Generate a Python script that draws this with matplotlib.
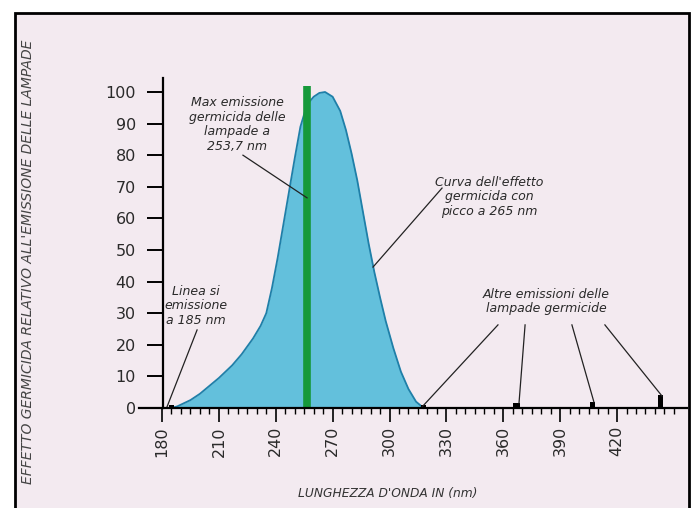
import matplotlib
matplotlib.use("Agg")
import matplotlib.pyplot as plt
from matplotlib.patches import Rectangle

# ---- data ----
curve_nm = [185, 188, 195, 200, 205, 210, 217, 222, 228, 232, 235, 238, 241, 244,
            247, 250, 253, 256.5, 260, 263, 266, 270, 274, 277, 280, 283, 286,
            289, 292, 295, 298, 302, 306, 310, 314, 318]
curve_val = [0, 0.5, 2.5, 4.5, 7, 9.5, 13.5, 17, 22, 26, 30, 38, 47.5, 58,
             68.5, 79, 89, 96, 98.5, 99.7, 100, 98.5, 94, 88, 80.5, 72, 62,
             52, 43, 35, 27.5, 19, 11.5, 6, 2, 0]
lamp_peak_nm = 256.5
lamp_peak_top = 102
emis_nm = [185, 318, 367, 407, 443]
emis_val = [1.0, 0.8, 1.6, 2.0, 4.0]
emis_width = [3.0, 3.0, 3.5, 2.5, 2.5]

y_ticks = [0, 10, 20, 30, 40, 50, 60, 70, 80, 90, 100]
x_major = [180, 210, 240, 270, 300, 330, 360, 390, 420]
x_minor = list(range(180, 455, 5))

ylabel = "EFFETTO GERMICIDA RELATIVO ALL'EMISSIONE DELLE LAMPADE"
xlabel = "LUNGHEZZA D'ONDA IN (nm)"

BG = "#f3eaf0"
TXT = "#2a2a2a"

W, H = 693, 508
fig = plt.figure(figsize=(W / 100, H / 100), dpi=100, facecolor="white")
# bordered panel
fig.patches.append(Rectangle((15 / W, -0.02), (689 - 15) / W, (H - 13) / H + 0.02,
                             transform=fig.transFigure, facecolor=BG,
                             edgecolor="black", linewidth=2, zorder=-10))

L, R, T, B = 130, 690, 70, 430
ax = fig.add_axes([L / W, 1 - B / H, (R - L) / W, (B - T) / H])
ax.set_facecolor("none")
ax.patch.set_alpha(0)
px_per_nm = 1.896
px_per_unit = 3.16
ax.set_xlim(180 + (L - 162) / px_per_nm, 180 + (R - 162) / px_per_nm)
ax.set_ylim(-(B - 408) / px_per_unit, (408 - T) / px_per_unit)

# spectrum curve
ax.fill_between(curve_nm, curve_val, 0, color="#63c0dc", zorder=2, linewidth=0)
ax.plot(curve_nm, curve_val, color="#1f7fa8", lw=1.3, zorder=3)

# lamp line 253.7
ax.vlines(lamp_peak_nm, 0, lamp_peak_top, color="#16993a", lw=5.5, zorder=4)

# other emissions
ax.bar(emis_nm, emis_val, width=emis_width, color="black", zorder=5)

# axes
for s in ["top", "right"]:
    ax.spines[s].set_visible(False)
ax.spines["left"].set_position(("data", 180.5))
ax.spines["left"].set_bounds(0, 104.5)
ax.spines["bottom"].set_position(("data", 0))
ax.spines["bottom"].set_bounds(168, 457)
for s in ["left", "bottom"]:
    ax.spines[s].set_linewidth(1.6)
    ax.spines[s].set_zorder(6)

ax.set_yticks(y_ticks)
ax.tick_params(axis="y", direction="out", length=11.5, width=1.4, pad=8,
               labelsize=11.5, labelcolor=TXT)
ax.set_xticks(x_major)
ax.set_xticks(x_minor, minor=True)
ax.tick_params(axis="x", which="major", direction="out", length=10, width=1.2,
               pad=3, labelsize=11.5, labelcolor=TXT, labelrotation=90)
ax.tick_params(axis="x", which="minor", direction="out", length=4, width=1.0)

# annotations
afont = dict(fontsize=9, style="italic", color=TXT, ha="center", va="center",
             linespacing=1.15)
ax.text(219.6, 89.7, "Max emissione\ngermicida delle\nlampade a\n253,7 nm", **afont)
ax.plot([222.7, 256.5], [80, 66.5], color="#222", lw=0.9, zorder=5)

ax.text(352.5, 66.8, "Curva dell'effetto\ngermicida con\npicco a 265 nm", **afont)
ax.plot([327.7, 291.3], [69.6, 44.6], color="#222", lw=0.9, zorder=5)

ax.text(197.9, 32.3, "Linea si\nemissione\na 185 nm", **afont)
ax.plot([198.5, 182.6], [24.7, 0.3], color="#222", lw=0.9, zorder=5)

ax.text(382.5, 33.7, "Altre emissioni delle\nlampade germicide", **afont)
for (x0, x1, y1) in [(357.2, 317.1, 0.3), (371.5, 368.3, 1.6),
                     (396.2, 407.8, 1.9), (413.6, 443.7, 3.8)]:
    ax.plot([x0, x1], [26.3, y1], color="#222", lw=0.9, zorder=5)

# axis titles
fig.text(28 / W, 1 - 262 / H, ylabel, rotation=90, ha="center", va="center",
         fontsize=10, style="italic", color="#444")
fig.text(388 / W, 1 - 494 / H, xlabel, ha="center", va="center",
         fontsize=8.8, style="italic", color="#333")

fig.savefig("out.png", dpi=100, facecolor="white")
